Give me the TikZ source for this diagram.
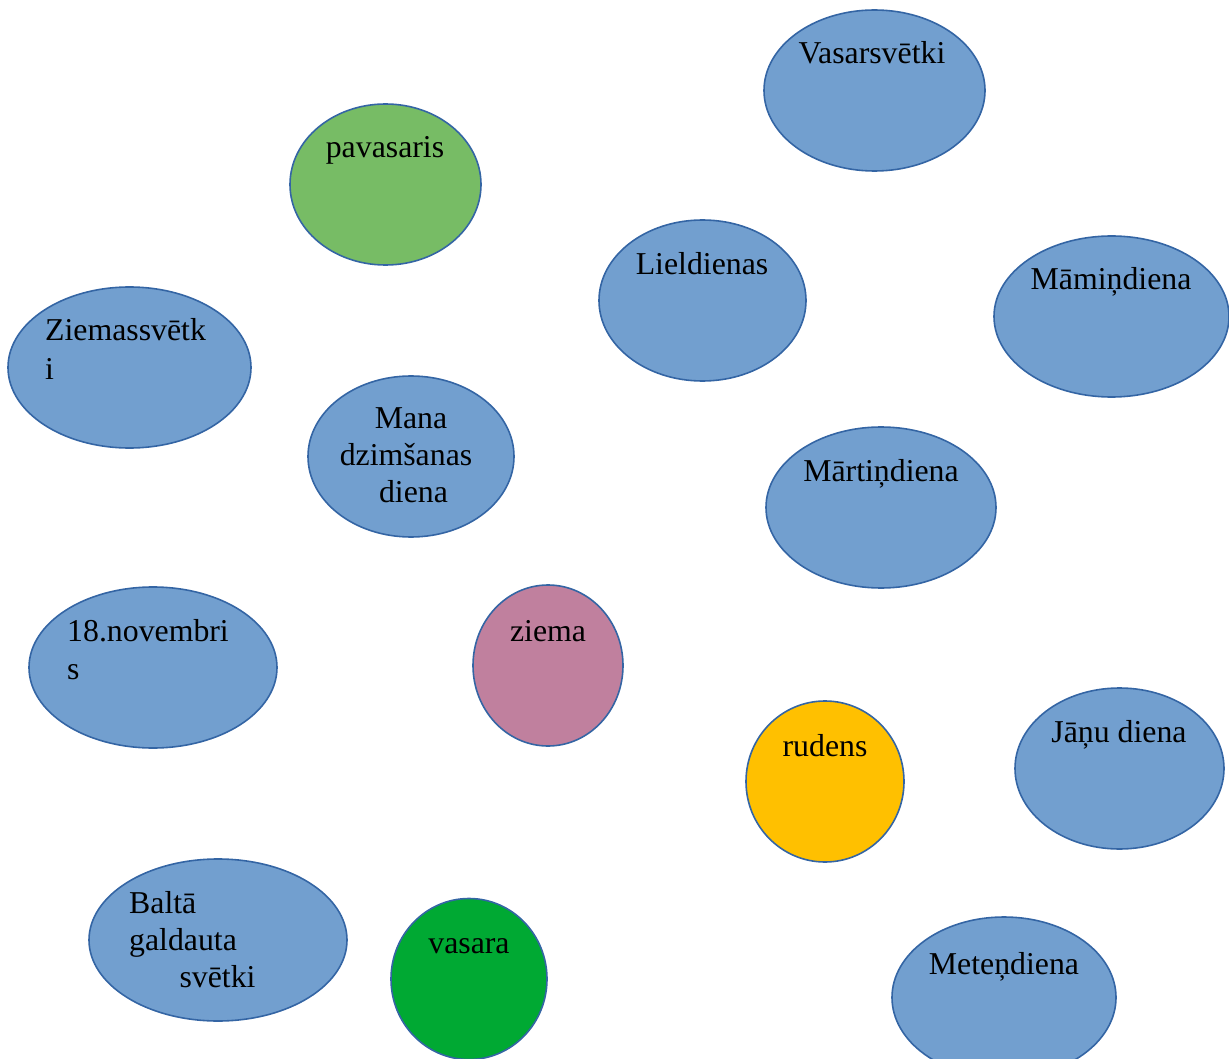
\documentclass[tikz,border=0pt]{standalone}
\usepackage{fontspec}
\setmainfont{Liberation Serif}
\usetikzlibrary{shapes.geometric}
\definecolor{blobblue}{RGB}{114,159,207}
\definecolor{blobline}{RGB}{52,101,164}
\definecolor{springgreen}{RGB}{119,188,101}
\definecolor{wintpink}{RGB}{192,128,158}
\definecolor{autyellow}{RGB}{255,192,0}
\definecolor{sumgreen}{RGB}{0,169,51}
\tikzset{
  blob/.style={ellipse, draw=blobline, line width=1.6pt, inner sep=0pt},
  lbl/.style={inner sep=0pt, font=\fontsize{31.8}{37}\selectfont, text=black},
}
\begin{document}
\begin{tikzpicture}[x=1pt,y=-1pt]
\useasboundingbox (0,0) rectangle (1229,1059);
\begin{scope}
\clip (0,0) rectangle (1229,1059);
% ellipses
\node[blob, fill=blobblue, minimum width=221pt, minimum height=161pt] (vas) at (874.5,90.5) {};
\node[blob, fill=springgreen, minimum width=191pt, minimum height=161pt] (pav) at (385.5,184.5) {};
\node[blob, fill=blobblue, minimum width=207pt, minimum height=161pt] (lie) at (702.5,300.5) {};
\node[blob, fill=blobblue, minimum width=235pt, minimum height=161pt] (mam) at (1111.5,316.5) {};
\node[blob, fill=blobblue, minimum width=243pt, minimum height=161pt] (zsv) at (129.5,367.5) {};
\node[blob, fill=blobblue, minimum width=206pt, minimum height=161pt] (man) at (411,456.5) {};
\node[blob, fill=blobblue, minimum width=230pt, minimum height=161pt] (mar) at (881,507.5) {};
\node[blob, fill=blobblue, minimum width=248pt, minimum height=161pt] (nov) at (153,667.5) {};
\node[blob, fill=wintpink, minimum width=150pt, minimum height=161pt] (zie) at (548,665.5) {};
\node[blob, fill=autyellow, minimum width=158pt, minimum height=161pt] (rud) at (825,781.5) {};
\node[blob, fill=blobblue, minimum width=209pt, minimum height=161pt] (jan) at (1119.5,768.5) {};
\node[blob, fill=blobblue, minimum width=258pt, minimum height=162pt] (bal) at (218,940) {};
\node[blob, fill=sumgreen, minimum width=156pt, minimum height=161pt] (vsr) at (469,979) {};
\node[blob, fill=blobblue, minimum width=224pt, minimum height=161pt] (met) at (1004,997.5) {};
\end{scope}
% labels
\node[lbl, anchor=base] (tvas) at (872,64) {Vasarsvētki};
\node[lbl, anchor=base] (tpav) at (385,158) {pavasaris};
\node[lbl, anchor=base] (tlie) at (702,275) {Lieldienas};
\node[lbl, anchor=base] (tmam) at (1111,290) {Māmiņdiena};
\node[lbl, anchor=base west] (tzsv1) at (45,341) {Ziemassvētk};
\node[lbl, anchor=base west] (tzsv2) at (45,379) {i};
\node[lbl, anchor=base] (tman1) at (411,428) {Mana};
\node[lbl, anchor=base] (tman2) at (406,465) {dzimšanas};
\node[lbl, anchor=base] (tman3) at (413.5,502) {diena};
\node[lbl, anchor=base] (tmar) at (881,481) {Mārtiņdiena};
\node[lbl, anchor=base west] (tnov1) at (67,641) {18.novembri};
\node[lbl, anchor=base west] (tnov2) at (67,679) {s};
\node[lbl, anchor=base] (tzie) at (548,641) {ziema};
\node[lbl, anchor=base] (trud) at (825,756) {rudens};
\node[lbl, anchor=base] (tjan) at (1119,742) {Jāņu diena};
\node[lbl, anchor=base west] (tbal1) at (129,913) {Baltā};
\node[lbl, anchor=base west] (tbal2) at (129,950) {galdauta};
\node[lbl, anchor=base] (tbal3) at (217.5,987) {svētki};
\node[lbl, anchor=base] (tvsr) at (469,953) {vasara};
\node[lbl, anchor=base] (tmet) at (1004,974) {Meteņdiena};
\end{tikzpicture}
\end{document}
